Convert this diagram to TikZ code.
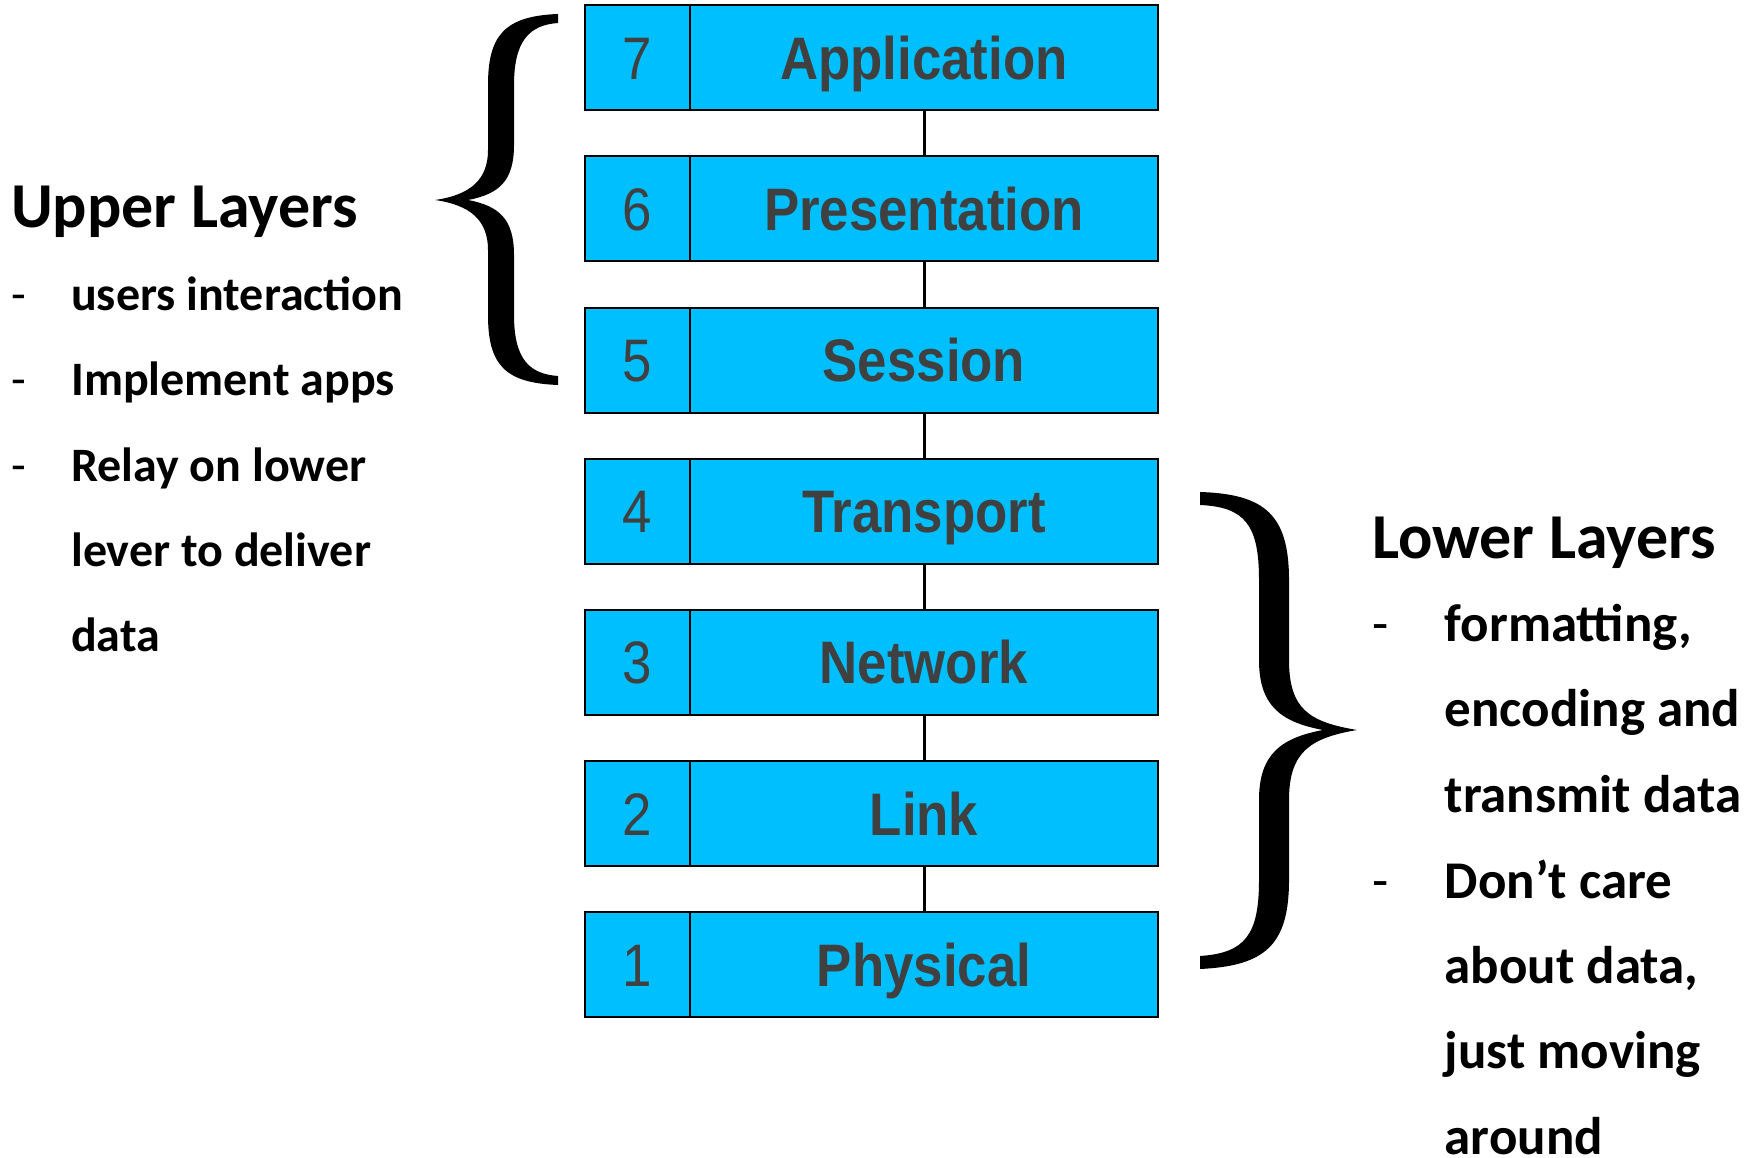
\documentclass[tikz,border=0pt]{standalone}
\usepackage{fontspec}
\setmainfont{Carlito}
\newfontfamily\boxfont[FakeStretch=0.88]{Liberation Sans}
\usetikzlibrary{positioning}
\definecolor{layerblue}{HTML}{00BFFF}
\definecolor{layertext}{HTML}{404040}

\begin{document}
\begin{tikzpicture}[x=1pt,y=1pt,node distance=46.15pt,
  cell/.style={draw,line width=2pt,fill=layerblue,outer sep=0pt,inner sep=0pt,
    minimum height=105pt,text height=43pt,text depth=0pt,text=layertext},
  num/.style={cell,minimum width=105pt,font=\boxfont\fontsize{60}{60}\selectfont},
  lyr/.style={cell,minimum width=468pt,font=\boxfont\bfseries\fontsize{60}{60}\selectfont},
  head/.style={anchor=base west,inner sep=0pt,font=\bfseries\fontsize{64}{64}\selectfont},
  bul/.style={anchor=base west,inner sep=0pt,font=\fontsize{#1}{#1}\selectfont},
  bul/.default=48,
  item/.style={anchor=base west,inner sep=0pt,font=\bfseries\fontsize{#1}{#1}\selectfont},
  item/.default=48,
  link/.style={line width=3pt}]
  \useasboundingbox (0,0) rectangle (1760,1157);

  % layer stack
  \node[num] (n7) at (637.5,1099.2) {7};
  \node[lyr,right=0pt of n7] (l7) {Application};
  \node[num,below=of n7] (n6) {6};
  \node[lyr,right=0pt of n6] (l6) {Presentation};
  \node[num,below=of n6] (n5) {5};
  \node[lyr,right=0pt of n5] (l5) {Session};
  \node[num,below=of n5] (n4) {4};
  \node[lyr,right=0pt of n4] (l4) {Transport};
  \node[num,below=of n4] (n3) {3};
  \node[lyr,right=0pt of n3] (l3) {Network};
  \node[num,below=of n3] (n2) {2};
  \node[lyr,right=0pt of n2] (l2) {Link};
  \node[num,below=of n2] (n1) {1};
  \node[lyr,right=0pt of n1] (l1) {Physical};
  \draw[link] (l7) -- (l6);
  \draw[link] (l6) -- (l5);
  \draw[link] (l5) -- (l4);
  \draw[link] (l4) -- (l3);
  \draw[link] (l3) -- (l2);
  \draw[link] (l2) -- (l1);

  % braces
  \fill (558,1143) .. controls (505,1141) and (488,1122) .. (488,1072) -- (488,1007)
    .. controls (488,977) and (470,962) .. (435,957)
    .. controls (470,952) and (488,937) .. (488,907) -- (488,842)
    .. controls (488,792) and (505,774) .. (558,772) -- (558,781)
    .. controls (530,783) and (514,797) .. (514,842) -- (514,902)
    .. controls (514,937) and (500,951) .. (468,957)
    .. controls (500,963) and (514,977) .. (514,1012) -- (514,1072)
    .. controls (514,1117) and (530,1132) .. (558,1134) -- cycle;
  \fill (1200,665) .. controls (1265,663) and (1289,642) .. (1289,577) -- (1289,497)
    .. controls (1289,447) and (1310,435) .. (1357,427)
    .. controls (1310,419) and (1289,405) .. (1289,357) -- (1289,277)
    .. controls (1289,212) and (1265,191) .. (1200,188) -- (1200,201)
    .. controls (1245,204) and (1259,222) .. (1259,277) -- (1259,357)
    .. controls (1259,402) and (1280,419) .. (1323,427)
    .. controls (1280,435) and (1259,452) .. (1259,497) -- (1259,577)
    .. controls (1259,632) and (1245,650) .. (1200,652) -- cycle;

  % upper layers text
  \node[head] (uphead) at (11,929) {Upper Layers};
  \node[bul] (ub1) at (11,846) {-};
  \node[item] (ut1) at (71,846) {users interaction};
  \node[bul] (ub2) at (11,761) {-};
  \node[item] (ut2) at (71,761) {Implement apps};
  \node[bul] (ub3) at (11,675.5) {-};
  \node[item] (ut3) at (71,675.5) {Relay on lower};
  \node[item] (ut4) at (71,590) {lever to deliver};
  \node[item] (ut5) at (71,505) {data};

  % lower layers text
  \node[head] (lowhead) at (1372,598) {Lower Layers};
  \node[bul=53] (lb1) at (1372,515) {-};
  \node[item=53] (lt1) at (1444.5,515) {formatting,};
  \node[item=53] (lt2) at (1444.5,430) {encoding and};
  \node[item=53] (lt3) at (1444.5,344.5) {transmit data};
  \node[bul=53] (lb2) at (1372,259) {-};
  \node[item=53] (lt4) at (1444.5,259) {Don’t care};
  \node[item=53] (lt5) at (1444.5,174) {about data,};
  \node[item=53] (lt6) at (1444.5,88.5) {just moving};
  \node[item=53] (lt7) at (1444.5,3) {around};
\end{tikzpicture}
\end{document}
